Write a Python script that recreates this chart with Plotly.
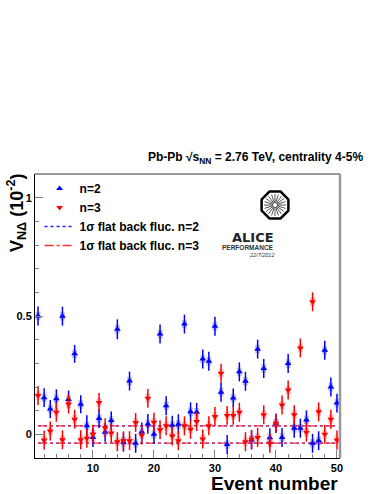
import math
import plotly.graph_objects as go

events = list(range(1, 51))

# v_NDelta for n=2 (units of 1e-2)
v_n2 = [0.500, 0.155, 0.107, 0.150, 0.499, 0.147, 0.340, 0.127, 0.036, -0.013,
        0.067, 0.009, 0.058, 0.444, -0.033, 0.225, -0.038, 0.010, 0.044, 0.000,
        0.424, 0.121, 0.038, 0.043, 0.466, 0.095, 0.093, 0.318, 0.309, 0.457,
        0.178, -0.043, 0.154, 0.264, 0.224, -0.024, 0.360, 0.278, -0.014, 0.047,
        -0.013, 0.299, 0.026, 0.026, 0.061, -0.038, -0.027, 0.355, 0.200, 0.132]
err_n2 = [0.040, 0.040, 0.038, 0.040, 0.040, 0.038, 0.038, 0.038, 0.045, 0.040,
          0.040, 0.040, 0.038, 0.042, 0.040, 0.040, 0.040, 0.040, 0.042, 0.040,
          0.040, 0.040, 0.040, 0.042, 0.040, 0.040, 0.040, 0.040, 0.040, 0.040,
          0.040, 0.040, 0.040, 0.040, 0.040, 0.040, 0.040, 0.040, 0.040, 0.040,
          0.040, 0.040, 0.040, 0.040, 0.040, 0.040, 0.040, 0.040, 0.040, 0.040]

# v_NDelta for n=3
v_n3 = [0.164, -0.024, 0.014, 0.093, -0.023, 0.128, 0.064, -0.023, -0.017, 0.001,
        0.135, 0.028, 0.006, -0.031, -0.027, -0.027, 0.050, -0.003, 0.152, 0.051,
        0.019, 0.036, -0.007, -0.027, 0.036, 0.021, 0.054, -0.020, 0.036, 0.075,
        0.258, 0.080, 0.080, 0.093, -0.031, -0.021, -0.013, 0.083, -0.038, 0.047,
        0.124, 0.187, 0.083, 0.365, 0.009, 0.560, 0.095, 0.000, 0.064, -0.024]
err_n3 = [0.040, 0.040, 0.040, 0.040, 0.040, 0.040, 0.040, 0.040, 0.040, 0.040,
          0.040, 0.040, 0.040, 0.040, 0.040, 0.040, 0.040, 0.040, 0.040, 0.040,
          0.040, 0.040, 0.040, 0.040, 0.040, 0.040, 0.040, 0.040, 0.040, 0.040,
          0.040, 0.040, 0.040, 0.040, 0.040, 0.040, 0.040, 0.040, 0.040, 0.040,
          0.040, 0.040, 0.040, 0.040, 0.040, 0.040, 0.040, 0.040, 0.040, 0.040]

# 1 sigma flat background fluctuation levels
band_x = [1, 50]
fluc_up = 0.036
fluc_down = -0.037

FONT = "Liberation Sans"
W, H = 382, 494
L, R, T, B = 35, 340, 174, 458

fig = go.Figure()

# light systematic boxes behind the markers
fig.add_trace(go.Bar(x=events, y=[0.036] * 50, base=[v - 0.018 for v in v_n2], width=0.8,
                     marker=dict(color="rgba(110,120,200,0.45)", line=dict(width=0)),
                     showlegend=False, hoverinfo="skip"))
fig.add_trace(go.Bar(x=events, y=[0.036] * 50, base=[v - 0.018 for v in v_n3], width=0.8,
                     marker=dict(color="rgba(230,120,120,0.45)", line=dict(width=0)),
                     showlegend=False, hoverinfo="skip"))

fig.add_trace(go.Scatter(x=[band_x[0], band_x[1], None, band_x[0], band_x[1]],
                         y=[fluc_up, fluc_up, None, fluc_down, fluc_down],
                         mode="lines", line=dict(color="#2020ff", width=1.3, dash="dot"),
                         name="1σ flat back fluc. n=2", legendrank=3))
fig.add_trace(go.Scatter(x=[band_x[0], band_x[1], None, band_x[0], band_x[1]],
                         y=[fluc_up, fluc_up, None, fluc_down, fluc_down],
                         mode="lines", line=dict(color="#ff3030", width=1.3, dash="dashdot"),
                         name="1σ flat back fluc. n=3", legendrank=4))

fig.add_trace(go.Scatter(x=events, y=v_n2, mode="markers", name="n=2", legendrank=1,
                         marker=dict(symbol="triangle-up", color="blue", size=6),
                         error_y=dict(type="data", array=err_n2, color="blue", thickness=1.5, width=0),
                         error_x=dict(type="constant", value=0.3, color="blue", thickness=1.2, width=0)))
fig.add_trace(go.Scatter(x=events, y=v_n3, mode="markers", name="n=3", legendrank=2,
                         marker=dict(symbol="triangle-down", color="red", size=6),
                         error_y=dict(type="data", array=err_n3, color="red", thickness=1.5, width=0),
                         error_x=dict(type="constant", value=0.3, color="red", thickness=1.2, width=0)))

fig.update_layout(
    width=W, height=H,
    margin=dict(l=L, r=W - R, t=T, b=H - B, autoexpand=False),
    paper_bgcolor="white", plot_bgcolor="white",
    barmode="overlay",
    font=dict(family=FONT, color="black"),
    legend=dict(x=0.015, y=1.0, xanchor="left", yanchor="top",
                font=dict(size=12, family=FONT, weight="bold"),
                traceorder="normal", itemwidth=30, tracegroupgap=0,
                bgcolor="rgba(0,0,0,0)"),
)
fig.update_xaxes(range=[0.5, 50.5], showgrid=False, zeroline=False,
                 showline=True, linecolor="black", linewidth=1,
                 ticks="inside", ticklen=8, dtick=10, tick0=0, tickcolor="gray",
                 minor=dict(ticks="inside", ticklen=4, dtick=2, tickcolor="gray"),
                 tickfont=dict(size=11, family=FONT, weight="bold"))
fig.update_yaxes(range=[-0.1, 1.1], showgrid=False, zeroline=False,
                 showline=True, linecolor="black", linewidth=1,
                 ticks="inside", ticklen=8, tickvals=[0, 0.5, 1], ticktext=["0", "0.5", "1"],
                 tickcolor="gray",
                 minor=dict(ticks="inside", ticklen=4, dtick=0.1, tickcolor="gray"),
                 tickfont=dict(size=11, family=FONT, weight="bold"))

# top and right frame lines
fig.add_shape(type="line", xref="paper", yref="paper", x0=0, x1=1, y0=1, y1=1,
              line=dict(color="#999999", width=2))
fig.add_shape(type="line", xref="paper", yref="paper", x0=1, x1=1, y0=0, y1=1,
              line=dict(color="#999999", width=2.5))


def px(xp):
    return (xp - L) / (R - L)


def py(yp):
    return (B - yp) / (B - T)


fig.add_annotation(text="<b>Pb-Pb √s<sub>NN</sub> = 2.76 TeV, centrality 4-5%</b>",
                   xref="paper", yref="paper", x=px(365), y=py(158),
                   xanchor="right", yanchor="middle", showarrow=False,
                   font=dict(size=12, family=FONT))
fig.add_annotation(text="<b>V<sub>NΔ</sub> (10<sup>-2</sup>)</b>",
                   xref="paper", yref="paper", x=px(16), y=py(172),
                   xanchor="center", yanchor="top", textangle=-90, showarrow=False,
                   font=dict(size=18, family=FONT))
fig.add_annotation(text="<b>Event number</b>",
                   xref="paper", yref="paper", x=1, y=py(483),
                   xanchor="right", yanchor="middle", showarrow=False,
                   font=dict(size=19, family=FONT))

# ALICE performance logo
cx, cy, rad = 275, 205, 14.5
pts = []
for k in range(8):
    a = math.pi / 8 + k * math.pi / 4
    pts.append((px(cx + rad * math.cos(a)), py(cy + rad * math.sin(a))))
path = "M " + " L ".join(f"{x:.4f},{y:.4f}" for x, y in pts) + " Z"
fig.add_shape(type="path", xref="paper", yref="paper", path=path,
              line=dict(color="black", width=2.5))
for k in range(20):
    a = k * 2 * math.pi / 20
    fig.add_shape(type="line", xref="paper", yref="paper",
                  x0=px(cx + 2.5 * math.cos(a)), y0=py(cy + 2.5 * math.sin(a)),
                  x1=px(cx + 11 * math.cos(a)), y1=py(cy + 11 * math.sin(a)),
                  line=dict(color="#555555", width=1))
fig.add_shape(type="circle", xref="paper", yref="paper",
              x0=px(cx - 2.5), x1=px(cx + 2.5), y0=py(cy + 2.5), y1=py(cy - 2.5),
              line=dict(color="#555555", width=1))
fig.add_annotation(text="<b>ALICE</b>", xref="paper", yref="paper", x=px(cx), y=py(229),
                   showarrow=False, borderpad=0,
                   font=dict(size=13, family="DejaVu Sans", color="#222222"))
fig.add_annotation(text="<b>PERFORMANCE</b>", xref="paper", yref="paper", x=px(cx), y=py(242.5),
                   showarrow=False, borderpad=0,
                   font=dict(size=6.5, family=FONT, color="#333333"))
fig.add_annotation(text="<i>22/7/2012</i>", xref="paper", yref="paper", x=px(cx), y=py(250.5),
                   showarrow=False, borderpad=0,
                   font=dict(size=5.5, family=FONT, color="#333333"))

fig.write_html("out.html", config={"displayModeBar": False},
               post_script="document.body.style.margin='0px';")
